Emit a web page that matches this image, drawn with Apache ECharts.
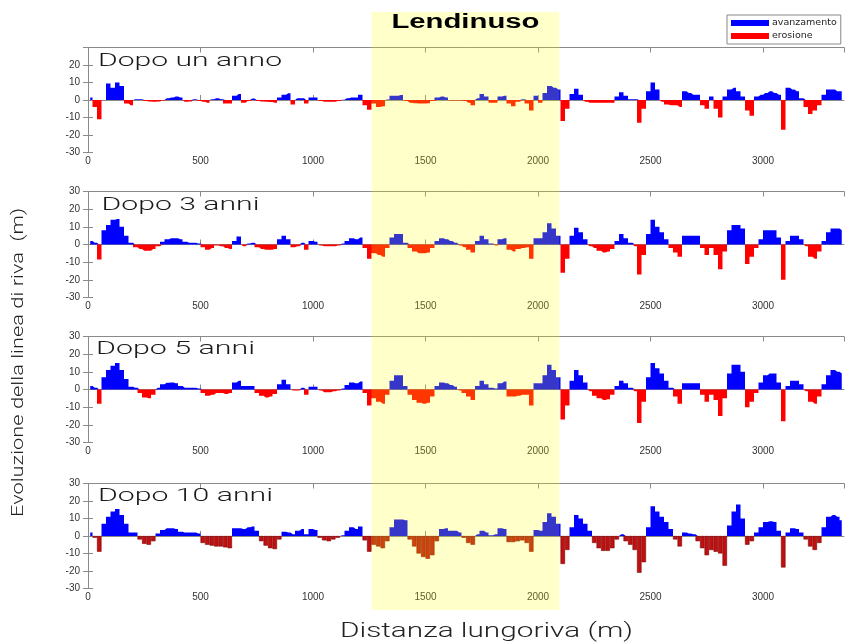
<!DOCTYPE html>
<html><head><meta charset="utf-8">
<script src="https://cdn.jsdelivr.net/npm/echarts@6/dist/echarts.min.js"></script>
<style>html,body{margin:0;padding:0;background:#fff}#c{width:845px;height:644px}</style>
</head><body><div id="c"></div>
<script>
// ---------- DATA ----------
const stations = [
  10,30,50,70,90,110,130,150,170,190,210,230,250,270,290,310,330,350,370,390,410,430,450,470,490,
  510,530,550,570,590,610,630,650,670,690,710,730,750,770,790,810,830,850,870,890,910,930,950,970,990,
  1010,1030,1050,1070,1090,1110,1130,1150,1170,1190,1210,1230,1250,1270,1290,1310,1330,1350,1370,1390,1410,1430,1450,1470,1490,
  1510,1530,1550,1570,1590,1610,1630,1650,1670,1690,1710,1730,1750,1770,1790,1810,1830,1850,1870,1890,1910,1930,1950,1970,1990,
  2010,2030,2050,2070,2090,2110,2130,2150,2170,2190,2210,2230,2250,2270,2290,2310,2330,2350,2370,2390,2410,2430,2450,2470,2490,
  2510,2530,2550,2570,2590,2610,2630,2650,2670,2690,2710,2730,2750,2770,2790,2810,2830,2850,2870,2890,2910,2930,2950,2970,2990,
  3010,3030,3050,3070,3090,3110,3130,3150,3170,3190,3210,3230,3250,3270,3290,3310,3330,3350
];
const year1 = [
  1.5,-4,-11,0,9.5,7,10,8,-2,-3,0.5,0.5,-0.5,-0.8,-1,-0.8,-0.3,1,1.5,2,1.5,-1,-0.8,0.5,-0.5,
  -1,-1.5,0.5,1,0.5,-2,-2,2.5,3.5,-1.5,-0.5,0.8,-0.5,-0.8,-1,-1.2,-1.5,1.5,3,3.8,-2.5,1,1,-2,1.5,
  1.5,-0.5,-1,-1,-1,-0.5,0.2,1,1.5,1.5,3,-3,-5.5,-2,-4,-3.5,0.3,2.5,2.5,2.8,-0.5,-1.5,-1.8,-2,-2,
  -1.8,-0.5,1.5,2,1.5,-0.3,-0.3,-0.3,-0.5,-1.5,-3,1,3.5,2,-1.5,-1.5,2,2.5,-2,-3.5,-1,0.5,-2,-6,2.5,
  -1.5,4,8,7,6,-12,-5,3.5,6.5,3,-1,-1.5,-1.5,-1.5,-1.5,-1.5,-1.5,2,4.5,2.5,0.5,0.5,-13,-5,5,
  10,6,-1,-2.5,-3,-3,-4,5,4,3,3,-3,-5,2,-5,-10,2,6,7,5,2,-6,-9,2,3,
  4,5,4,3,-17,7,6,5,1,-4,-8,-6,-3,3,6,6,5,5
];
const year3 = [
  2,1,-8.5,8,11,14,14.5,10,5,1,-1.5,-2.5,-3.5,-3.5,-2.5,-1,1.5,3,3.5,3.5,3,1.5,1,1,0.5,
  -1.5,-3,-2,-0.5,-1,-2,-2.5,2,4.5,-1,0.5,1,-1.5,-2.5,-3,-3,-2.5,3,5,3,-1.5,-1,1,-3,2,
  1.5,-0.5,-1,-1,-1,-0.5,0.5,2,3.5,3,4,-2,-8,-5,-6,-7,-2,4,6,6,1,-2,-4,-5,-5,
  -4.5,-2,2,3.5,3,2,1,-0.5,-1.5,-3,-4.5,2,5,3,0.5,-0.5,3,3.5,-3,-4,-2.5,-2,-1.5,-8,3.5,
  3.5,7,12,9,5,-16,-8,5,9.5,7,3,-1,-2,-3.5,-4.5,-4,-2.5,2,6,3.5,1,-1,-17,-6,6,
  14,10,7,3,-2,-4.5,-7,5,5,5,5,-2,-6,-2,-6,-14,-4,8,11,11,9,-11,-7,-2,3,
  8,8,8,4,-20,2,5,5,3,-1,-7,-8,-4,2,7,9,9,8
];
const year5 = [
  2,1,-8,7,11,13.5,15,11,6,1.5,1,-2,-4.5,-5,-3,1,3,3.8,4,3.5,2,1,1,1,0.5,
  -2,-3.5,-3,-2,-2,-2.5,-2,4,5,2,2,2,-2,-3.5,-4.5,-4,-2.5,3,5.5,3,-0.5,-0.5,1,-3,1.5,
  1.5,-0.5,-1.5,-1.5,-1,-0.5,0.5,2.5,4,3.5,4.5,-2,-9,-5,-7,-8,-3,5,8,8,2,-3,-6,-7.5,-8,
  -7.5,-4,2,4,3.5,2.5,1.5,-0.5,-2,-4,-6,2,5,3,1,0.5,3.5,4.5,-4,-4,-3.5,-3,-3,-9,3.5,
  3.5,8,14,11,7,-17,-9,5,11,8,4,-1,-3.5,-5,-6,-5.5,-3,2,5,3.5,1,-1,-19,-7,7,
  15,12,9,5,1,-4,-8,3.5,3.5,3.5,3.5,-3,-7,-3,-6,-15,-5,9,14,14,10,-10,-7,-2,4,
  8,9,9,4,-18,2,5,5,3,-1,-7,-8,-4,3,8,11,10,9
];
const year10 = [
  2,-1,-9,7,11,14,15.5,12,7,2,2,-2,-4.5,-5,-3,1.5,3.5,4.5,4.5,4,2.5,2,2,2,1.5,
  -4,-5,-5.5,-6,-6,-6.5,-7,4.5,4.5,4,5,5.5,3,-3,-5.5,-7,-7.5,-2,2.5,2,1,3,4,1,4,
  3.5,-1,-2.5,-3,-2,-1,0.5,3,5,4,5.5,-2.5,-9,-5,-6,-7,-3,5,9.5,9.5,9,-2,-6,-10,-12,
  -13,-11,-3,4,4.5,3,3,2,-1,-4,-5,1,3,2,0.5,1,4.5,4,-3.5,-3.5,-3,-2.5,-4,-9,3.5,
  3,8,13,11,7,-16,-8,5,12,10,7,3,-4,-7,-8.5,-8.5,-7,-2,1,-3,-5,-8,-21,-15,5,
  17,14,11,8,4,-2,-6,2,1.5,1,-3,-7,-11,-8,-9,-10,-17,6,14,18,10,-5,-3,2,5,
  8,8.5,8,3,-18,2,4.5,4,2,-2,-6,-8,-4,5,11,12,11,9
];
const panelTitles = ['Dopo un anno', 'Dopo 3 anni', 'Dopo 5 anni', 'Dopo 10 anni'];
const legendNames = ['avanzamento', 'erosione'];
const xRange = [0, 3360];
const xInterval = 500;
const yRange = [-30, 30];
const yInterval = 10;
const bandRange = [1260, 2095];
const bandLabel = 'Lendinuso';
const xTitle = 'Distanza lungoriva (m)';
const yTitle = 'Evoluzione della linea di riva  (m)';

// ---------- LAYOUT / STYLE ----------
const panels = [year1, year3, year5, year10];
const gridTops = [47.5, 191.5, 336.5, 483.5];
const gridHeights = [105, 106, 106, 105];
const BLUE = '#0000ff', RED = '#ff0000', DARKRED = '#c21010';
const FONT = 'Liberation Sans';
const LIGHT = 'Roboto';

function fit(txt, font, target) {
  const ctx = document.createElement('canvas').getContext('2d');
  ctx.font = font;
  return target / ctx.measureText(txt).width;
}

const chart = echarts.init(document.getElementById('c'), null, {renderer: 'canvas'});
const grids = [], xAxes = [], yAxes = [], series = [];
const axisLine = {show: true, lineStyle: {color: '#8a8a8a', width: 1}};
const axisTick = {show: true, inside: true, length: 5, lineStyle: {color: '#8a8a8a'}};
const plain = v => String(v);
const stationCats = stations.map(String);

// stepped filled profile (one contiguous block per transect, no seams)
function stepArea(name, color, p, pts) {
  return {name, type: 'line', xAxisIndex: 3 * p + 1, yAxisIndex: 2 * p, step: 'middle',
    symbol: 'none', color, lineStyle: {width: 0, color}, itemStyle: {color},
    areaStyle: {color, opacity: 1, origin: 0}, data: pts, z: 2};
}

panels.forEach((vals, p) => {
  grids.push({left: 88, right: 1, top: gridTops[p], height: gridHeights[p]});
  xAxes.push({gridIndex: p, type: 'category', data: stationCats, boundaryGap: true, show: false});
  xAxes.push({gridIndex: p, type: 'value', min: xRange[0], max: xRange[1], interval: xInterval, position: 'bottom',
    axisLine, axisTick, splitLine: {show: false},
    axisLabel: {fontSize: 10, color: '#333', margin: 4, showMaxLabel: false, fontFamily: FONT, formatter: plain}});
  xAxes.push({gridIndex: p, type: 'value', min: xRange[0], max: xRange[1], interval: xInterval, position: 'top',
    axisLine, axisTick, splitLine: {show: false}, axisLabel: {show: false}});
  yAxes.push({gridIndex: p, type: 'value', min: yRange[0], max: yRange[1], interval: yInterval, position: 'left',
    axisLine, axisTick, splitLine: {show: false},
    axisLabel: {fontSize: 10, color: '#333', margin: 8, fontFamily: FONT, showMaxLabel: p !== 0, formatter: plain}});
  yAxes.push({gridIndex: p, type: 'value', min: yRange[0], max: yRange[1], interval: yInterval, position: 'right',
    axisLine, axisTick, splitLine: {show: false}, axisLabel: {show: false}});

  const pos = stations.map((s, i) => [s, vals[i] > 0 ? vals[i] : 0]);
  series.push(stepArea(legendNames[0], BLUE, p, pos));
  if (p < 3) {
    const neg = stations.map((s, i) => [s, vals[i] < 0 ? vals[i] : 0]);
    series.push(stepArea(legendNames[1], RED, p, neg));
  } else {
    // last panel: individual darker bars with visible separators
    series.push({name: legendNames[1], type: 'bar', xAxisIndex: 3 * p, yAxisIndex: 2 * p,
      barCategoryGap: '0%', color: DARKRED,
      itemStyle: {color: DARKRED, borderColor: '#7a0000', borderWidth: 0.6},
      data: vals.map(v => (v < 0 ? v : '-'))});
  }
});

const labelBoxes = [
  [panelTitles[0], 98, 61.7, 184],
  [panelTitles[1], 101.5, 205, 158],
  [panelTitles[2], 96, 349.5, 159],
  [panelTitles[3], 98, 496.7, 175]
];
const graphics = labelBoxes.map(([t, x, y, w], k) => ({
  type: 'text', id: 'pl' + k, x, y, z: 50, silent: true,
  scaleX: fit(t, `300 19px ${LIGHT}`, w), scaleY: 1,
  style: {text: t, fontSize: 19, fontWeight: 300, fontFamily: LIGHT, fill: '#1a1a1a', align: 'left', verticalAlign: 'middle'}
}));
graphics.push({
  type: 'text', id: 'xt', x: 486.5, y: 632, z: 50, silent: true,
  scaleX: fit(xTitle, `300 20px ${LIGHT}`, 293), scaleY: 1,
  style: {text: xTitle, fontSize: 20, fontWeight: 300, fontFamily: LIGHT, fill: '#222', align: 'center', verticalAlign: 'middle'}
});
graphics.push({
  type: 'text', id: 'yt', x: 19, y: 362.5, z: 50, silent: true, rotation: Math.PI / 2,
  scaleX: fit(yTitle, `300 16.5px ${LIGHT}`, 309), scaleY: 1,
  style: {text: yTitle, fontSize: 16.5, fontWeight: 300, fontFamily: LIGHT, fill: '#222', align: 'center', verticalAlign: 'middle'}
});

chart.setOption({
  animation: false,
  backgroundColor: '#fff',
  grid: grids, xAxis: xAxes, yAxis: yAxes, series,
  legend: {
    data: legendNames, orient: 'vertical', left: 727, top: 15, icon: 'rect',
    itemWidth: 38, itemHeight: 6, itemGap: 3, padding: [3, 4, 3, 4],
    borderColor: '#888', borderWidth: 1, selectedMode: false,
    textStyle: {fontSize: 9.5, color: '#222', fontFamily: 'DejaVu Sans', padding: [0, 0, 0, -2]}
  },
  graphic: graphics
});

const bx0 = chart.convertToPixel({xAxisIndex: 1}, bandRange[0]);
const bx1 = chart.convertToPixel({xAxisIndex: 1}, bandRange[1]);
chart.setOption({
  graphic: [
    {type: 'rect', id: 'band', z: 100, silent: true,
      shape: {x: bx0, y: 12, width: bx1 - bx0, height: 598},
      style: {fill: 'rgba(255,255,0,0.21)'}},
    {type: 'text', id: 'bandLabel', z: 101, silent: true, x: (bx0 + bx1) / 2, y: 22,
      scaleX: fit(bandLabel, `bold 20px ${FONT}`, 148), scaleY: 1,
      style: {text: bandLabel, fontSize: 20, fontWeight: 'bold', fontFamily: FONT, fill: '#000', align: 'center', verticalAlign: 'middle'}}
  ]
});
</script>
</body></html>
